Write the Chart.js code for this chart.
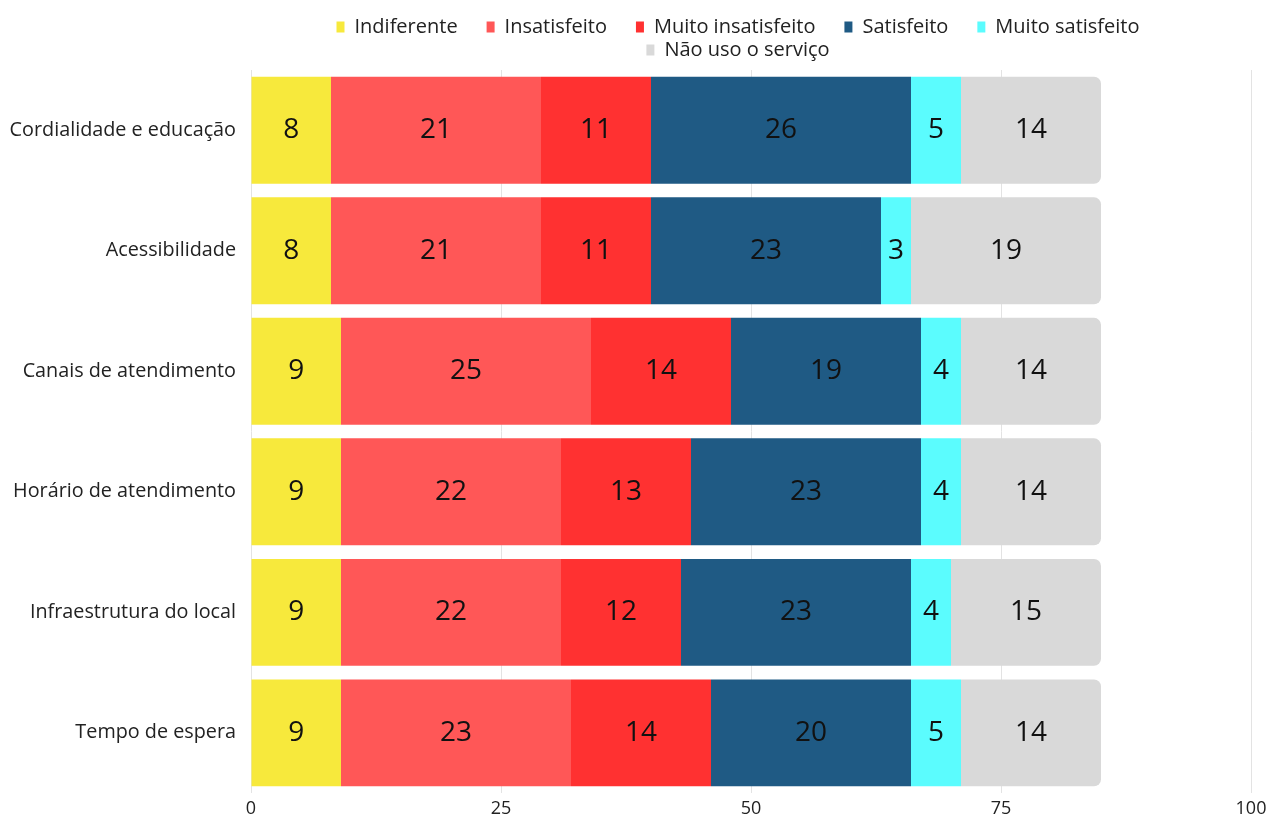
<!DOCTYPE html>
<html>
<head>
<meta charset="utf-8">
<script src="https://cdn.jsdelivr.net/npm/chart.js@4"></script>
<style>
    body { margin: 0; background: #fff; }
    #wrap { width: 1269px; height: 820px; position: relative; }
</style>
</head>
<body>
<div id="wrap"><canvas id="satisfacaoChart"></canvas></div>
<script>
const categorias = [
    'Cordialidade e educação',
    'Acessibilidade',
    'Canais de atendimento',
    'Horário de atendimento',
    'Infraestrutura do local',
    'Tempo de espera'
];
const indiferente = [8, 8, 9, 9, 9, 9];
const insatisfeito = [21, 21, 25, 22, 22, 23];
const muitoInsatisfeito = [11, 11, 14, 13, 12, 14];
const satisfeito = [26, 23, 19, 23, 23, 20];
const muitoSatisfeito = [5, 3, 4, 4, 4, 5];
const naoUso = [14, 19, 14, 14, 15, 14];
const xTicks = [0, 25, 50, 75, 100];

const FONT = "'Open Sans', 'Noto Sans', sans-serif";

// value written in the middle of each segment
const segmentLabels = {
    id: 'segmentLabels',
    afterDatasetsDraw(chart) {
        const ctx = chart.ctx;
        ctx.save();
        ctx.font = '28px ' + FONT;
        ctx.fillStyle = '#111';
        ctx.textAlign = 'center';
        ctx.textBaseline = 'middle';
        chart.data.datasets.forEach((ds, i) => {
            const meta = chart.getDatasetMeta(i);
            meta.data.forEach((bar, j) => {
                const v = ds.data[j];
                if (!v) return;
                ctx.fillText(String(v), (bar.x + bar.base) / 2, bar.y);
            });
        });
        ctx.restore();
    }
};

const ctx = document.getElementById('satisfacaoChart').getContext('2d');

new Chart(ctx, {
    type: 'bar',
    data: {
        labels: categorias,
        datasets: [
            { label: 'Indiferente', data: indiferente, backgroundColor: '#F7E93C' },
            { label: 'Insatisfeito', data: insatisfeito, backgroundColor: '#FF5757' },
            { label: 'Muito insatisfeito', data: muitoInsatisfeito, backgroundColor: '#FF3131' },
            { label: 'Satisfeito', data: satisfeito, backgroundColor: '#1F5A84' },
            { label: 'Muito satisfeito', data: muitoSatisfeito, backgroundColor: '#5BFCFE' },
            {
                label: 'Não uso o serviço', data: naoUso, backgroundColor: '#D9D9D9',
                borderRadius: { topLeft: 0, bottomLeft: 0, topRight: 7, bottomRight: 7 },
                borderSkipped: false
            }
        ]
    },
    options: {
        indexAxis: 'y',
        responsive: true,
        maintainAspectRatio: false,
        animation: false,
        layout: { padding: { top: 14, left: 6, right: 0, bottom: 0 } },
        datasets: {
            bar: { categoryPercentage: 1, barPercentage: 0.887 }
        },
        scales: {
            x: {
                stacked: true,
                min: 0,
                max: 100,
                afterBuildTicks(scale) {
                    scale.ticks = xTicks.map(v => ({ value: v }));
                },
                afterFit(scale) {
                    scale.height = 26;
                    scale.paddingRight = 18;
                },
                grid: { color: '#E3E3E3', drawTicks: false },
                border: { display: false },
                ticks: { color: '#222', font: { family: FONT, size: 18 }, padding: 5 }
            },
            y: {
                stacked: true,
                afterFit(scale) {
                    scale.width = 245;
                },
                grid: { display: false, drawTicks: false },
                border: { display: false },
                ticks: { color: '#222', font: { family: FONT, size: 19.8 }, padding: 15 }
            }
        },
        plugins: {
            legend: {
                position: 'top',
                fullSize: false,
                labels: {
                    usePointStyle: true,
                    pointStyle: 'rect',
                    pointStyleWidth: 8,
                    boxHeight: 11,
                    padding: 3,
                    color: '#222',
                    font: { family: FONT, size: 20 },
                    // extra trailing room keeps the items spaced apart on one row
                    generateLabels(chart) {
                        const base = Chart.defaults.plugins.legend.labels.generateLabels(chart);
                        return base.map(item => Object.assign(item, {
                            text: item.text + '\u00A0\u00A0\u00A0\u00A0\u00A0',
                            lineWidth: 0
                        }));
                    }
                }
            },
            tooltip: { enabled: false }
        }
    },
    plugins: [segmentLabels]
});
</script>
</body>
</html>
